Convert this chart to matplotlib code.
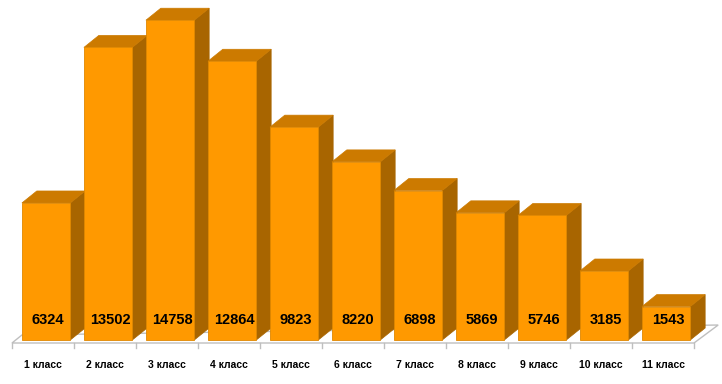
import matplotlib
matplotlib.use("Agg")
import matplotlib.pyplot as plt
from matplotlib.patches import Polygon

# data
CLASSES = ["1 класс", "2 класс", "3 класс", "4 класс", "5 класс", "6 класс",
           "7 класс", "8 класс", "9 класс", "10 класс", "11 класс"]
PUPILS = [6324, 13502, 14758, 12864, 9823, 8220, 6898, 5869, 5746, 3185, 1543]

# style
FRONT = "#FF9900"
TOP = "#CC7A00"
SIDE = "#A86500"
EDGE = "#E08800"
FLOOR = "#BFBFBF"

BAR_LEFT = 0.16     # offset of bar front inside its category slot
BAR_W = 0.78
DX = 0.24           # 3d depth, x (category units)
DY = 553            # 3d depth, y (value units)

plt.rcParams["font.family"] = ["Liberation Sans", "DejaVu Sans"]

fig = plt.figure(figsize=(7.22, 3.84), dpi=100)
ax = fig.add_axes([0, 0, 1, 1])
ax.set_xlim(-12 / 62, 710 / 62)
ax.set_ylim(-2030, 15690)
ax.axis("off")

n = len(PUPILS)

# floor of the 3d plot
fy0 = -138
floor = Polygon([(0, fy0), (n, fy0), (n + 0.39, 692), (0.16, 231)],
                closed=True, facecolor="none", edgecolor=FLOOR, lw=1.0, zorder=1)
ax.add_patch(floor)
for i in range(n + 1):
    ax.plot([i, i], [fy0, fy0 - 230], color=FLOOR, lw=1.0, zorder=1)

for i, (name, v) in enumerate(zip(CLASSES, PUPILS)):
    x0 = i + BAR_LEFT
    x1 = x0 + BAR_W
    z = 2 + i
    side = Polygon([(x1, 0), (x1 + DX, DY), (x1 + DX, v + DY), (x1, v)],
                   closed=True, facecolor=SIDE, edgecolor=SIDE, lw=0.5, zorder=z)
    top = Polygon([(x0, v), (x1, v), (x1 + DX, v + DY), (x0 + DX, v + DY)],
                  closed=True, facecolor=TOP, edgecolor=TOP, lw=0.5, zorder=z)
    front = Polygon([(x0, 0), (x1, 0), (x1, v), (x0, v)],
                    closed=True, facecolor=FRONT, edgecolor=EDGE, lw=0.6, zorder=z)
    for p in (side, top, front):
        ax.add_patch(p)

    ax.text(x0 + BAR_W / 2 + 0.03, 922, f"{v}", ha="center", va="center",
            fontsize=10.5, fontweight="bold", color="black", zorder=z + 0.5)
    ax.text(i + 0.5, -1153, name, ha="center", va="center",
            fontsize=7.5, fontweight="bold", color="black")

fig.savefig("out.png", dpi=100)
